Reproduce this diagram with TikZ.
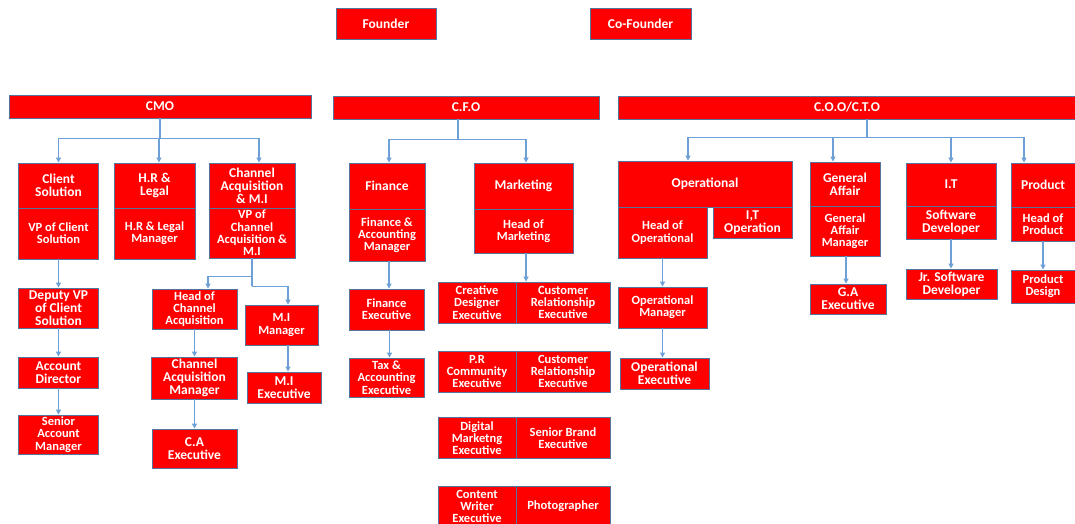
\documentclass[tikz,border=0pt]{standalone}
\usepackage{fontspec}
\setmainfont{Carlito}
\usepackage{tikz}
\usetikzlibrary{
arrows.meta,
positioning,
calc
}
\definecolor{orgred}{RGB}{255,0,0}
\definecolor{orgedge}{RGB}{84,118,158}
\definecolor{orglink}{RGB}{108,160,214}

\begin{document}
\begin{tikzpicture}[x=1pt, y=-1pt, >={Triangle[length=5pt, width=5pt]},
  unit/.style={draw=orgedge, line width=0.9pt, fill=orgred, text=white,
    align=center, inner sep=1pt,
    font=\bfseries\fontsize{13.5}{13}\selectfont},
  subunit/.style={unit, font=\bfseries\fontsize{12.5}{12.3}\selectfont},
  box/.style 2 args={minimum width=#1pt, minimum height=#2pt},
  link/.style={draw=orglink, line width=1.1pt}]

\useasboundingbox (0,0) rectangle (1075,524);

%% Founders
\node[unit, box={100}{31}] (founder) at (386,23.5) {Founder};
\node[unit, box={101}{31}] (cofounder) at (640.5,23.5) {Co-Founder};

%% Chief bars
\node[unit, box={302}{23}] (cmo) at (160,106.5) {CMO};
\node[unit, box={266}{23}] (cfo) at (466,107.5) {C.F.O};
\node[unit, box={458}{23}] (coo) at (847,107.5) {C.O.O/C.T.O};

%% CMO branch
\node[unit, box={80}{45}] (cs) at (58.5,185.5) {Client\\Solution};
\node[subunit, box={80}{51}] (vpcs) at (58.5,233.5) {VP of Client\\Solution};
\node[unit, box={81}{45}] (hr) at (154.5,185.5) {H.R \&\\Legal};
\node[subunit, box={81}{51}] (hrm) at (154.5,233.5) {H.R \& Legal\\Manager};
\node[unit, box={86}{45}] (ca) at (252,185.5) {Channel\\Acquisition\\\& M.I};
\node[subunit, box={86}{50}] (vpca) at (252,233) {VP of\\Channel\\Acquisition \&\\M.I};

\node[unit, box={80}{40}] (dvp) at (58.5,308) {Deputy VP\\of Client\\Solution};
\node[unit, box={80}{31}] (ad) at (58.5,372.5) {Account\\Director};
\node[subunit, box={80}{39}] (sam) at (58.5,434.5) {Senior\\Account\\Manager};

\node[subunit, box={85}{40}] (hca) at (194.5,309) {Head of\\Channel\\Acquisition};
\node[unit, box={86}{42}] (cam) at (194.5,378) {Channel\\Acquisition\\Manager};
\node[unit, box={85}{39}] (cae) at (194.5,448.5) {C.A\\Executive};
\node[subunit, box={73}{40}] (mim) at (281.5,325) {M.I\\Manager};
\node[unit, box={74}{31}] (mie) at (284,387.5) {M.I\\Executive};

\coordinate (cmoj) at ($(cmo.south)+(0,20)$);
\draw[link] (cmo.south) -- (cmoj);
\draw[link, ->] (cmoj) -| (cs.north);
\draw[link, ->] (cmoj) -| ([xshift=4.5pt]hr.north);
\draw[link, ->] (cmoj) -| ([xshift=7pt]ca.north);

\draw[link, ->] (vpcs.south) -- (dvp.north);
\draw[link, ->] (dvp.south) -- (ad.north);
\draw[link, ->] (ad.south) -- (sam.north);

\coordinate (caj) at ($(vpca.south)+(0,28)$);
\draw[link] (vpca.south) -- (caj);
\draw[link, ->] ($(vpca.south)+(0,18)$) -| ([xshift=13.5pt]hca.north);
\draw[link, ->] (caj) -| ([xshift=6.5pt]mim.north);
\draw[link, ->] (hca.south) -- (cam.north);
\draw[link, ->] (cam.south) -- (cae.north);
\draw[link, ->] ([xshift=6.5pt]mim.south) -- ([xshift=6.5pt]mim.south |- mie.north);

%% CFO branch
\node[unit, box={76}{46}] (fin) at (387,186) {Finance};
\node[subunit, box={76}{52}] (fam) at (387,235) {Finance \&\\Accounting\\Manager};
\node[unit, box={99}{46}] (mkt) at (523.5,186) {Marketing};
\node[subunit, box={99}{44}] (hom) at (523.5,231) {Head of\\Marketing};
\node[subunit, box={75}{41}] (fe) at (386.5,309.5) {Finance\\Executive};
\node[subunit, box={75}{39}] (tae) at (386.5,377.5) {Tax \&\\Accounting\\Executive};

%% Marketing executives (two columns)
\foreach \r/\y/\ltext/\rtext in {
  1/302.5/{Creative\\Designer\\Executive}/{Customer\\Relationship\\Executive},
  2/371.5/{P.R\\Community\\Executive}/{Customer\\Relationship\\Executive},
  3/438/{Digital\\Marketng\\Executive}/{Senior Brand\\Executive},
  4/506.5/{Content\\Writer\\Executive}/{Photographer}}{
  \node[subunit, box={78}{41}] (ml\r) at (477,\y) {\ltext};
  \node[subunit, box={94}{41}] (mr\r) at (563,\y) {\rtext};
}

\coordinate (cfoj) at ($(cfo.south)+(-8,20)$);
\draw[link] (cfoj |- cfo.south) -- (cfoj);
\draw[link, ->] (cfoj) -| ([xshift=2pt]fin.north);
\draw[link, ->] (cfoj) -| ([xshift=2.5pt]mkt.north);
\draw[link, ->] ([xshift=2pt]fam.south) -- ([xshift=2pt]fam.south |- fe.north);
\draw[link, ->] ([xshift=3pt]fe.south) -- ([xshift=3pt]fe.south |- tae.north);
\draw[link, ->] ([xshift=2.5pt]hom.south) -- ([xshift=2.5pt]hom.south |- mr1.north);

%% COO/CTO branch
\node[unit, box={174}{46}] (op) at (705,184) {Operational};
\node[subunit, box={89}{51}] (hop) at (662.5,232.5) {Head of\\Operational};
\node[unit, box={79}{31}] (ito) at (752.5,222.5) {I,T\\Operation};
\node[unit, box={70}{44}] (ga) at (845,184) {General\\Affair};
\node[subunit, box={70}{50}] (gam) at (845,231) {General\\Affair\\Manager};
\node[unit, box={90}{43}] (it) at (951,184.5) {I.T};
\node[unit, box={90}{33}] (sd) at (951,222.5) {Software\\Developer};
\node[unit, box={64}{44}] (prod) at (1043,185) {Product};
\node[subunit, box={64}{34}] (hpr) at (1043,224) {Head of\\Product};

\node[subunit, box={89}{41}] (om) at (662.5,307.5) {Operational\\Manager};
\node[unit, box={89}{31}] (oe) at (664.5,373.5) {Operational\\Executive};
\node[unit, box={76}{30}] (gae) at (848,299) {G.A\\Executive};
\node[unit, box={91}{30}] (jsd) at (951.5,284) {Jr. Software\\Developer};
\node[subunit, box={64}{33}] (pd) at (1043,286.5) {Product\\Design};

\coordinate (cooj) at ($(coo.south)+(20,18)$);
\draw[link] (cooj |- coo.south) -- (cooj);
\draw[link, ->] (cooj) -| ([xshift=-17pt]op.north);
\draw[link, ->] (cooj) -| ([xshift=-12pt]ga.north);
\draw[link, ->] (cooj) -| (it.north);
\draw[link, ->] (cooj) -| ([xshift=-19pt]prod.north);

\draw[link, ->] (hop.south) -- (om.north);
\draw[link, ->] (om.south) -- (om.south |- oe.north);
\draw[link, ->] ([xshift=1pt]gam.south) -- ([xshift=1pt]gam.south |- gae.north);
\draw[link, ->] (sd.south) -- (sd.south |- jsd.north);
\draw[link, ->] (hpr.south) -- (pd.north);

\end{tikzpicture}
\end{document}
